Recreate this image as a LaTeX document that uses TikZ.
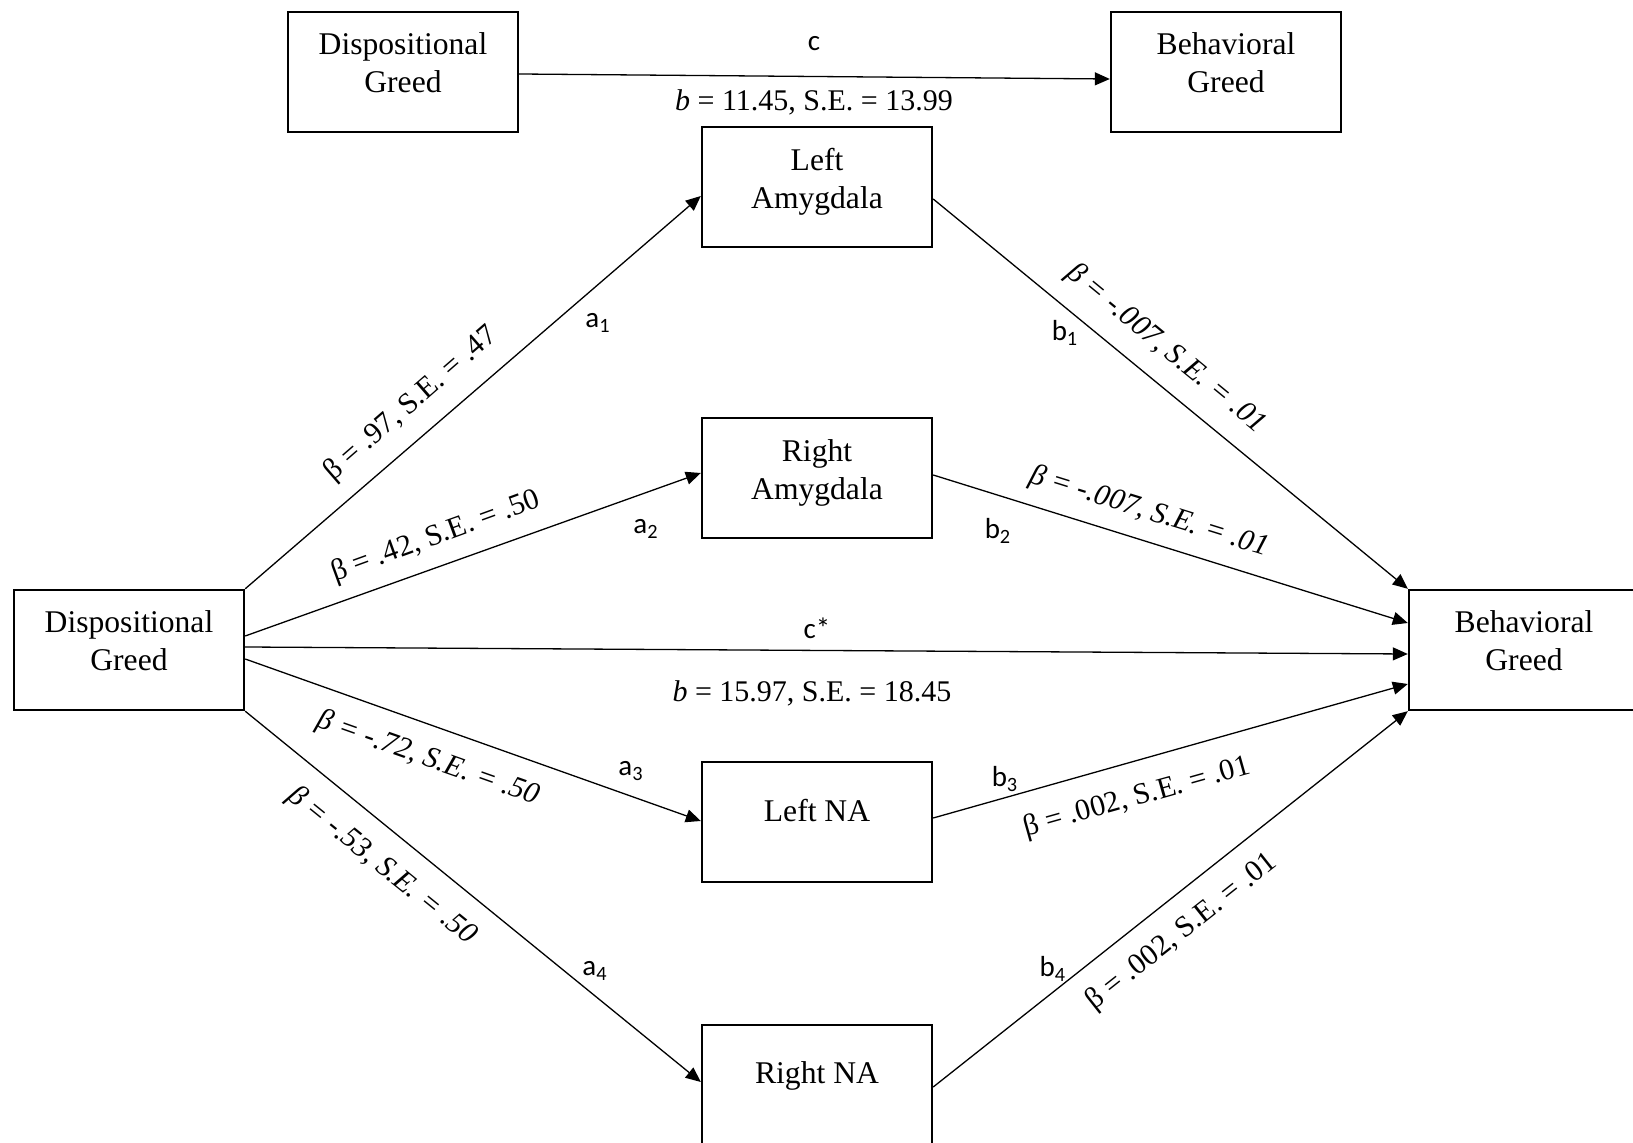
\documentclass[tikz,border=0pt]{standalone}
\usepackage{fontspec}
\setmainfont{Liberation Serif}
\newfontfamily\calib{Carlito}
\usetikzlibrary{arrows.meta,calc}
\begin{document}
\begin{tikzpicture}[x=0.5pt,y=-0.5pt,
  box/.style={draw,line width=1.2pt,minimum width=115pt,minimum height=60pt,inner sep=0pt},
  btxt/.style={font=\fontsize{15.8}{19}\selectfont,align=center,inner sep=0pt},
  conn/.style={line width=0.65pt,-{Triangle[length=7.5pt,width=6.5pt]}},
  lab/.style={font=\fontsize{15}{18}\selectfont,inner sep=0pt},
  ilab/.style={font=\fontsize{15}{18}\selectfont\itshape,inner sep=0pt},
  sl/.style={font=\calib\fontsize{14.5}{17}\selectfont,inner sep=0pt}]
\useasboundingbox (0,0) rectangle (1633,1143);
% boxes
\node[box] (dgT) at (403,72) {};
\node[box] (bgT) at (1226,72) {};
\node[box] (la) at (817,187) {};
\node[box] (ra) at (817,478) {};
\node[box] (lna) at (817,822) {};
\node[box] (rna) at (817,1085) {};
\node[box] (dg) at (129,650) {};
\node[box] (bg) at (1524,650) {};
% box texts
\node[btxt] (dgTt) at ($(dgT.center)+(0,-9.5)$) {Dispositional\\Greed};
\node[btxt] (bgTt) at ($(bgT.center)+(0,-9.5)$) {Behavioral\\Greed};
\node[btxt] (lat) at ($(la.center)+(0,-5)$) {Left\\Amygdala};
\node[btxt] (rat) at ($(ra.center)+(0,-5)$) {Right\\Amygdala};
\node[btxt] (lnat) at ($(lna.center)+(0,-11)$) {Left NA};
\node[btxt] (rnat) at ($(rna.center)+(0,-9.5)$) {Right NA};
\node[btxt] (dgt) at ($(dg.center)+(0,-9)$) {Dispositional\\Greed};
\node[btxt] (bgt) at ($(bg.center)+(0,-9)$) {Behavioral\\Greed};
% connectors
\draw[conn] ($(dgT.east)+(0,2)$) -- ($(bgT.west)+(0,7)$);
\draw[conn] (dg.north east) -- ($(la.west)+(0,9)$);
\draw[conn] ($(dg.east)+(0,-14)$) -- ($(ra.west)+(0,-5)$);
\draw[conn] ($(dg.east)+(0,-3)$) -- ($(bg.west)+(0,4)$);
\draw[conn] ($(dg.east)+(0,9)$) -- ($(lna.west)+(0,-1)$);
\draw[conn] (dg.south east) -- ($(rna.west)+(0,-3)$);
\draw[conn] ($(la.east)+(0,12)$) -- (bg.north west);
\draw[conn] ($(ra.east)+(0,-3)$) -- ($(bg.west)+(0,-27)$);
\draw[conn] ($(lna.east)+(0,-4)$) -- ($(bg.west)+(0,34)$);
\draw[conn] ($(rna.east)+(0,2)$) -- (bg.south west);
% labels
\node[sl] (lc) at (814,44) {c};
\node[lab] (lcb) at (814,102) {{\itshape b} = 11.45, S.E. = 13.99};
\node[sl] (la1) at (598,323) {a\textsubscript{1}};
\node[lab,rotate=41] (l1) at (411,404) {β = .97, S.E. = .47};
\node[sl] (la2) at (646,529) {a\textsubscript{2}};
\node[lab,rotate=20] (l2) at (436,537) {β = .42, S.E. = .50};
\node[sl] (lcs) at (817,628) {c*};
\node[lab] (lcsb) at (812,693) {{\itshape b} = 15.97, S.E. = 18.45};
\node[ilab,rotate=-19.5] (l3) at (428,759) {β = -.72, S.E. = .50};
\node[sl] (la3) at (631,771) {a\textsubscript{3}};
\node[ilab,rotate=-39] (l4) at (382,866) {β = -.53, S.E. = .50};
\node[sl] (la4) at (595,971) {a\textsubscript{4}};
\node[sl] (lb1) at (1065,333) {b\textsubscript{1}};
\node[ilab,rotate=-39.4] (m1) at (1166,349) {β = -.007, S.E. = .01};
\node[sl] (lb2) at (998,531) {b\textsubscript{2}};
\node[ilab,rotate=-17.3] (m2) at (1149,512) {β = -.007, S.E. = .01};
\node[sl] (lb3) at (1005,779) {b\textsubscript{3}};
\node[lab,rotate=15.7] (m3) at (1137,798) {β = .002, S.E. = .01};
\node[sl] (lb4) at (1053,969) {b\textsubscript{4}};
\node[lab,rotate=38.3] (m4) at (1182,932) {β = .002, S.E. = .01};
\end{tikzpicture}
\end{document}
